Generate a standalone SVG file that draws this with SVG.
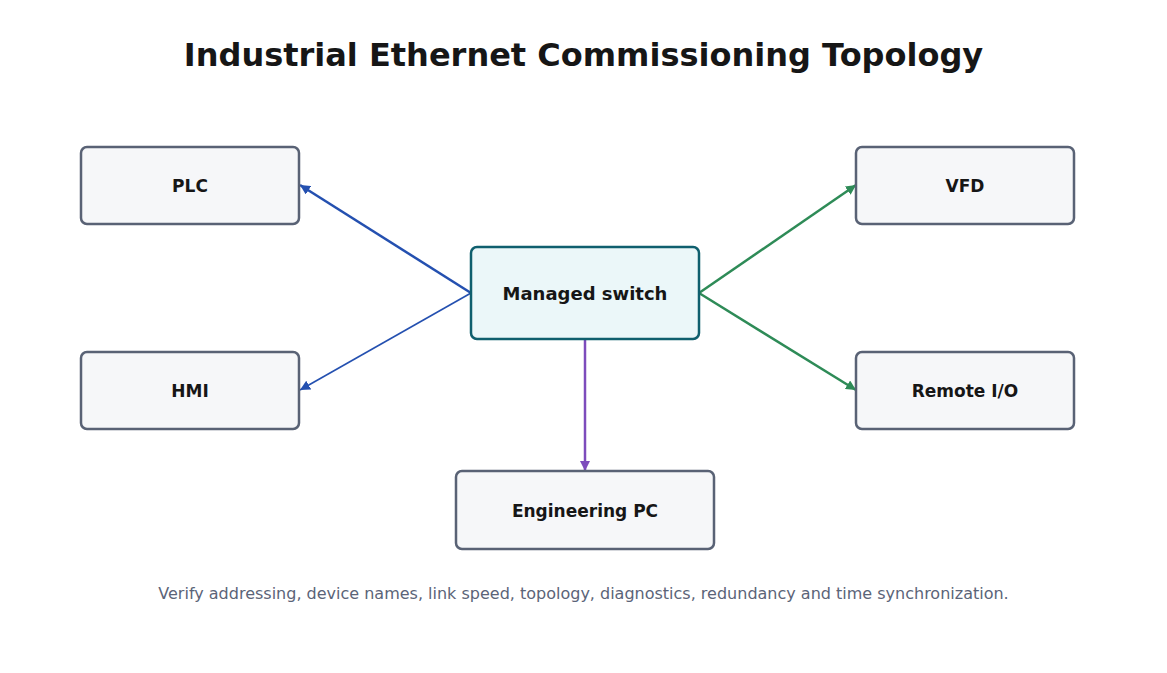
<svg xmlns="http://www.w3.org/2000/svg" width="1167" height="673" viewBox="0 0 1167 673">
<style>
.node rect{fill:#f6f7f9;stroke:#596275;stroke-width:2.5}
.hub rect{fill:#ebf7f9;stroke:#0f5f6e;stroke-width:2.5}
.lbl{font-family:"DejaVu Sans",sans-serif;font-weight:bold;font-size:17px;fill:#161616;text-anchor:middle}
.hub .lbl{font-size:18px}
.title{font-family:"DejaVu Sans",sans-serif;font-weight:bold;font-size:32px;fill:#161616;text-anchor:middle}
.foot{font-family:"DejaVu Sans",sans-serif;font-size:16px;fill:#5b6478;text-anchor:middle}
.blue{stroke:#2450b0;fill:none}
.green{stroke:#2e8b57;fill:none;stroke-width:2.5}
.purple{stroke:#7d4cbc;fill:none;stroke-width:2.5}
</style>
<defs>
<marker id="mb" viewBox="0 0 10 10" refX="10" refY="5" markerWidth="10" markerHeight="10" markerUnits="userSpaceOnUse" orient="auto"><path d="M0,0 L10,5 L0,10 z" fill="#2450b0"/></marker>
<marker id="mg" viewBox="0 0 10 10" refX="10" refY="5" markerWidth="10" markerHeight="10" markerUnits="userSpaceOnUse" orient="auto"><path d="M0,0 L10,5 L0,10 z" fill="#2e8b57"/></marker>
<marker id="mp" viewBox="0 0 10 10" refX="10" refY="5" markerWidth="10" markerHeight="10" markerUnits="userSpaceOnUse" orient="auto"><path d="M0,0 L10,5 L0,10 z" fill="#7d4cbc"/></marker>
</defs>
<rect width="1167" height="673" fill="#ffffff"/>
<text class="title" x="583.5" y="66">Industrial Ethernet Commissioning Topology</text>
<g id="connectors">
<line class="blue" x1="471" y1="293" x2="300" y2="185" stroke-width="2.5" marker-end="url(#mb)"/>
<line class="blue" x1="471" y1="293" x2="300" y2="390" stroke-width="1.6" marker-end="url(#mb)"/>
<line class="green" x1="699" y1="293" x2="856" y2="185" marker-end="url(#mg)"/>
<line class="green" x1="699" y1="293" x2="856" y2="390" marker-end="url(#mg)"/>
<line class="purple" x1="585" y1="339" x2="585" y2="471" marker-end="url(#mp)"/>
</g>
<g id="plc" class="node"><rect x="81" y="147" width="218" height="77" rx="6"/><text class="lbl" x="190" y="191.5">PLC</text></g>
<g id="hmi" class="node"><rect x="81" y="352" width="218" height="77" rx="6"/><text class="lbl" x="190" y="396.5">HMI</text></g>
<g id="vfd" class="node"><rect x="856" y="147" width="218" height="77" rx="6"/><text class="lbl" x="965" y="191.5">VFD</text></g>
<g id="remote-io" class="node"><rect x="856" y="352" width="218" height="77" rx="6"/><text class="lbl" x="965" y="396.5">Remote I/O</text></g>
<g id="switch" class="hub"><rect x="471" y="247" width="228" height="92" rx="6"/><text class="lbl" x="585" y="299.5">Managed switch</text></g>
<g id="engineering-pc" class="node"><rect x="456" y="471" width="258" height="78" rx="6"/><text class="lbl" x="585" y="516.5">Engineering PC</text></g>
<text class="foot" x="583.5" y="599">Verify addressing, device names, link speed, topology, diagnostics, redundancy and time synchronization.</text>
</svg>
